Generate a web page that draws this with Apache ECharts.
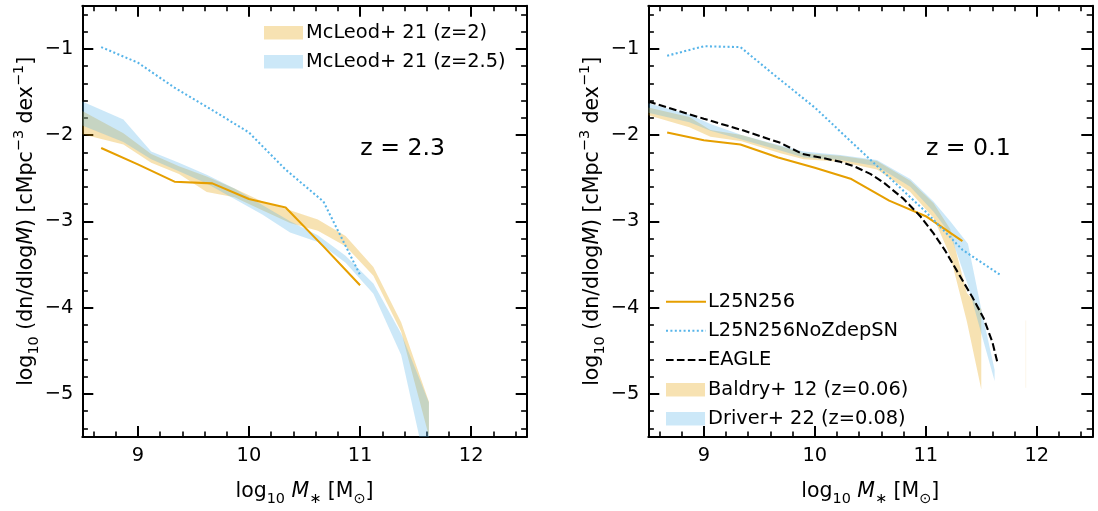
<!DOCTYPE html>
<html>
<head>
<meta charset="utf-8">
<script src="https://cdn.jsdelivr.net/npm/echarts@6/dist/echarts.min.js"></script>
<style>
  html, body { margin: 0; padding: 0; background: #ffffff; }
  #chart { width: 1098px; height: 511px; }
</style>
</head>
<body>
<div id="chart"></div>
<script>
// ---------- axis ranges and tick labels ----------
const X_RANGE = [8.5, 12.5];
const Y_RANGE = [-5.5, -0.5];
const xMajorTicks = [9, 10, 11, 12];
const yMajorTicks = [-5, -4, -3, -2, -1];

// ---------- z = 2.3 panel ----------
const simMassZ23 = [8.67, 9.0, 9.33, 9.67, 10.0, 10.33, 10.67, 11.0];
const l25n256Z23 = [-2.15, -2.34, -2.54, -2.56, -2.74, -2.84, -3.29, -3.74];
const noZdepZ23  = [-0.98, -1.16, -1.45, -1.71, -1.97, -2.40, -2.77, -3.62];

const mcleodMass   = [8.5, 8.87, 9.12, 9.37, 9.62, 9.87, 10.12, 10.37, 10.62, 10.87, 11.12, 11.37, 11.62];
const mcleodZ2Lo   = [-1.99, -2.11, -2.32, -2.45, -2.66, -2.72, -2.87, -3.02, -3.11, -3.29, -3.63, -4.28, -5.49];
const mcleodZ2Hi   = [-1.72, -1.98, -2.22, -2.36, -2.48, -2.62, -2.77, -2.87, -2.98, -3.17, -3.53, -4.17, -5.09];
const mcleodZ25Lo  = [-1.89, -2.08, -2.28, -2.42, -2.56, -2.74, -2.92, -3.13, -3.24, -3.48, -3.84, -4.55, -6.00];
const mcleodZ25Hi  = [-1.61, -1.82, -2.19, -2.32, -2.46, -2.62, -2.81, -3.00, -3.16, -3.40, -3.72, -4.30, -5.10];

// ---------- z = 0.1 panel ----------
const simMassZ01 = [8.67, 9.0, 9.33, 9.67, 10.0, 10.33, 10.67, 11.0, 11.33];
const l25n256Z01 = [-1.97, -2.06, -2.11, -2.26, -2.38, -2.51, -2.76, -2.94, -3.23];
const noZdepMassZ01 = [8.67, 9.0, 9.33, 9.67, 10.0, 10.33, 10.67, 11.0, 11.33, 11.67];
const noZdepZ01  = [-1.08, -0.97, -0.98, -1.34, -1.68, -2.08, -2.49, -2.89, -3.33, -3.62];

const eagleMass = [8.5, 9.0, 9.34, 9.69, 9.89, 10.05, 10.23, 10.35, 10.5, 10.62, 10.8, 10.95, 11.07, 11.17, 11.31, 11.42, 11.52, 11.6, 11.65];
const eagleVal  = [-1.61, -1.81, -1.94, -2.09, -2.22, -2.26, -2.31, -2.36, -2.45, -2.55, -2.74, -2.94, -3.14, -3.33, -3.64, -3.88, -4.12, -4.40, -4.66];

const baldryMass = [8.5, 8.87, 9.06, 9.34, 9.69, 9.9, 10.23, 10.56, 10.86, 11.07, 11.22, 11.37, 11.5];
const baldryLo   = [-1.77, -1.91, -2.02, -2.07, -2.21, -2.28, -2.31, -2.40, -2.66, -2.96, -3.40, -4.16, -4.95];
const baldryHi   = [-1.68, -1.79, -1.94, -2.00, -2.13, -2.21, -2.24, -2.30, -2.53, -2.79, -3.09, -3.83, -4.02];
const baldryLoneMass = [11.9, 11.9];
const baldryLoneVal  = [-4.15, -4.93];

const driverMass = [8.5, 8.87, 9.06, 9.34, 9.69, 9.9, 10.23, 10.56, 10.86, 11.07, 11.22, 11.38, 11.5, 11.62];
const driverLo   = [-1.74, -1.85, -1.95, -2.05, -2.18, -2.26, -2.29, -2.36, -2.60, -2.89, -3.15, -3.74, -4.30, -4.85];
const driverHi   = [-1.63, -1.76, -1.87, -2.00, -2.12, -2.19, -2.23, -2.29, -2.51, -2.77, -3.00, -3.26, -4.02, -4.72];

// ---------- labels ----------
const legendLeft  = ['McLeod+ 21 (z=2)', 'McLeod+ 21 (z=2.5)'];
const legendRight = ['L25N256', 'L25N256NoZdepSN', 'EAGLE', 'Baldry+ 12 (z=0.06)', 'Driver+ 22 (z=0.08)'];
const panelLabels = ['z = 2.3', 'z = 0.1'];

// ---------- styling ----------
const FONT = 'DejaVu Sans';
const FS = 19.4;
const TITLE_FS = 20.5;
const ORANGE = '#E69F00';
const SKY = '#56B4E9';
const ORANGE_FILL = 'rgba(230,159,0,0.3)';
const SKY_FILL = 'rgba(86,180,233,0.3)';
const LW = 2.08;

// minor tick positions every 0.2 between the integer ticks
function minorTicks(range) {
  const out = [];
  const k0 = Math.ceil(range[0] * 5 + 1e-9), k1 = Math.floor(range[1] * 5 - 1e-9);
  for (let k = k0; k <= k1; k++) {
    if (k % 5 !== 0) out.push(Math.round(k * 2) / 10);
  }
  return out;
}
const xMinorTicks = minorTicks(X_RANGE);
const yMinorTicks = minorTicks(Y_RANGE);

const pairs = (xs, ys) => xs.map((x, i) => [x, ys[i]]);
const minusSign = v => String(v).replace('-', '\u2212');

// axis titles with sub- and superscripts
const richText = {
  n: { fontSize: TITLE_FS, fontFamily: FONT, color: '#000', lineHeight: 29 },
  i: { fontSize: TITLE_FS, fontFamily: FONT, color: '#000', fontStyle: 'italic', lineHeight: 29 },
  s: { fontSize: 14.4, fontFamily: FONT, color: '#000', verticalAlign: 'bottom', lineHeight: 16.5 },
  p: { fontSize: 14.4, fontFamily: FONT, color: '#000', verticalAlign: 'top', lineHeight: 16.5 }
};
const xTitle = '{n|log}{s|10}{n| }{i|M}{s|\u2217}{n| [M}{s|\u2299}{n|]}';
const yTitle = '{n|log}{s|10}{n| (dn/dlog}{i|M}{n|) [cMpc}{p|\u22123}{n| dex}{p|\u22121}{n|]}';

const grids = [
  { left: 82.3, top: 5.7, width: 444.4, height: 442 },
  { left: 648.3, top: 5.7, width: 444, height: 442 }
];

function axisSet(dim, gi) {
  const range = dim === 'x' ? X_RANGE : Y_RANGE;
  const majors = dim === 'x' ? xMajorTicks : yMajorTicks;
  const minors = dim === 'x' ? xMinorTicks : yMinorTicks;
  const sides = dim === 'x' ? ['bottom', 'top'] : ['left', 'right'];
  const base = {
    gridIndex: gi, type: 'value', min: range[0], max: range[1],
    splitLine: { show: false }, silent: true
  };
  const list = [];
  sides.forEach((pos, si) => {
    const main = Object.assign({}, base, {
      position: pos,
      axisLine: { show: true, onZero: false, lineStyle: { color: '#000', width: 2 } },
      axisTick: { show: true, inside: true, length: 11, customValues: majors, lineStyle: { color: '#000', width: 2 } },
      axisLabel: si === 0 ? {
        show: true, customValues: majors, margin: 9,
        fontSize: FS, fontFamily: FONT, color: '#000', formatter: minusSign
      } : { show: false }
    });
    if (si === 0) {
      main.name = dim === 'x' ? xTitle : yTitle;
      main.nameLocation = 'middle';
      main.nameGap = dim === 'x' ? 40 : 40;
      main.nameRotate = dim === 'x' ? 0 : 90;
      main.nameTextStyle = { rich: richText, fontFamily: FONT, fontSize: TITLE_FS, color: '#000' };
    }
    list.push(main);
    list.push(Object.assign({}, base, {
      position: pos,
      axisLine: { show: false, onZero: false },
      axisTick: { show: true, inside: true, length: 5.6, customValues: minors, lineStyle: { color: '#000', width: 1.6 } },
      axisLabel: { show: false }
    }));
  });
  return list;
}

// band between a lower and an upper curve, drawn as one clipped polygon
function band(gi, xs, lo, hi, fill) {
  return {
    type: 'custom', xAxisIndex: gi * 4, yAxisIndex: gi * 4, silent: true, z: 1, clip: true,
    data: xs.map((x, i) => [x, lo[i], hi[i]]),
    encode: { x: 0, y: [1, 2] },
    renderItem: function (params, api) {
      if (params.dataIndex !== 0) return;
      const upper = xs.map((x, i) => api.coord([x, hi[i]]));
      const lower = xs.map((x, i) => api.coord([x, lo[i]])).reverse();
      const cs = params.coordSys;
      return {
        type: 'polygon',
        shape: { points: upper.concat(lower) },
        style: { fill: fill, stroke: null },
        clipPath: { type: 'rect', shape: { x: cs.x, y: cs.y, width: cs.width, height: cs.height } }
      };
    }
  };
}

function curve(gi, xs, ys, color, dash, width) {
  return {
    type: 'line', xAxisIndex: gi * 4, yAxisIndex: gi * 4, z: 3,
    data: pairs(xs, ys), symbol: 'none', silent: true, clip: true,
    lineStyle: { color: color, width: width || LW, type: dash || 'solid', cap: 'butt' }
  };
}

const series = [
  // z = 2.3
  band(0, mcleodMass, mcleodZ2Lo, mcleodZ2Hi, ORANGE_FILL),
  band(0, mcleodMass, mcleodZ25Lo, mcleodZ25Hi, SKY_FILL),
  curve(0, simMassZ23, l25n256Z23, ORANGE),
  curve(0, simMassZ23, noZdepZ23, SKY, [2, 2.4]),
  // z = 0.1
  band(1, baldryMass, baldryLo, baldryHi, ORANGE_FILL),
  curve(1, baldryLoneMass, baldryLoneVal, 'rgba(230,159,0,0.07)', null, 1.2),
  band(1, driverMass, driverLo, driverHi, SKY_FILL),
  curve(1, simMassZ01, l25n256Z01, ORANGE),
  curve(1, noZdepMassZ01, noZdepZ01, SKY, [2, 2.4]),
  curve(1, eagleMass, eagleVal, '#000', [7.6, 3.3])
];

function legendText(x, y, text) {
  return { type: 'text', x: x, y: y, z: 10, silent: true,
    style: { text: text, fill: '#000', fontSize: FS, fontFamily: FONT, align: 'left', verticalAlign: 'middle' } };
}
function legendPatch(x, y, fill) {
  return { type: 'rect', z: 10, silent: true, shape: { x: x, y: y - 6.8, width: 39, height: 13.6 }, style: { fill: fill } };
}
function legendLine(x, y, color, dash) {
  return { type: 'line', z: 10, silent: true, shape: { x1: x, y1: y, x2: x + 40, y2: y },
    style: { stroke: color, lineWidth: LW, lineDash: dash || null, lineCap: 'butt' } };
}

const graphics = [
  legendPatch(264, 32.7, ORANGE_FILL), legendText(306, 32.7, legendLeft[0]),
  legendPatch(264, 61.7, SKY_FILL), legendText(306, 61.7, legendLeft[1]),
  legendLine(666, 301.7, ORANGE), legendText(708, 301.7, legendRight[0]),
  legendLine(666, 330.7, SKY, [2, 2.4]), legendText(708, 330.7, legendRight[1]),
  legendLine(666, 360, '#000', [7.6, 3.3]), legendText(708, 360, legendRight[2]),
  legendPatch(666, 389.7, ORANGE_FILL), legendText(708, 389.7, legendRight[3]),
  legendPatch(666, 418.8, SKY_FILL), legendText(708, 418.8, legendRight[4]),
  { type: 'text', x: 402.7, y: 149, z: 10, silent: true,
    style: { text: panelLabels[0], fill: '#000', fontSize: 23.6, fontFamily: FONT, align: 'center', verticalAlign: 'middle' } },
  { type: 'text', x: 968.3, y: 149, z: 10, silent: true,
    style: { text: panelLabels[1], fill: '#000', fontSize: 23.6, fontFamily: FONT, align: 'center', verticalAlign: 'middle' } }
];

const chart = echarts.init(document.getElementById('chart'), null, { renderer: 'canvas' });
chart.setOption({
  animation: false,
  backgroundColor: '#ffffff',
  textStyle: { fontFamily: FONT },
  grid: grids,
  xAxis: axisSet('x', 0).concat(axisSet('x', 1)),
  yAxis: axisSet('y', 0).concat(axisSet('y', 1)),
  series: series,
  graphic: graphics
});
</script>
</body>
</html>
